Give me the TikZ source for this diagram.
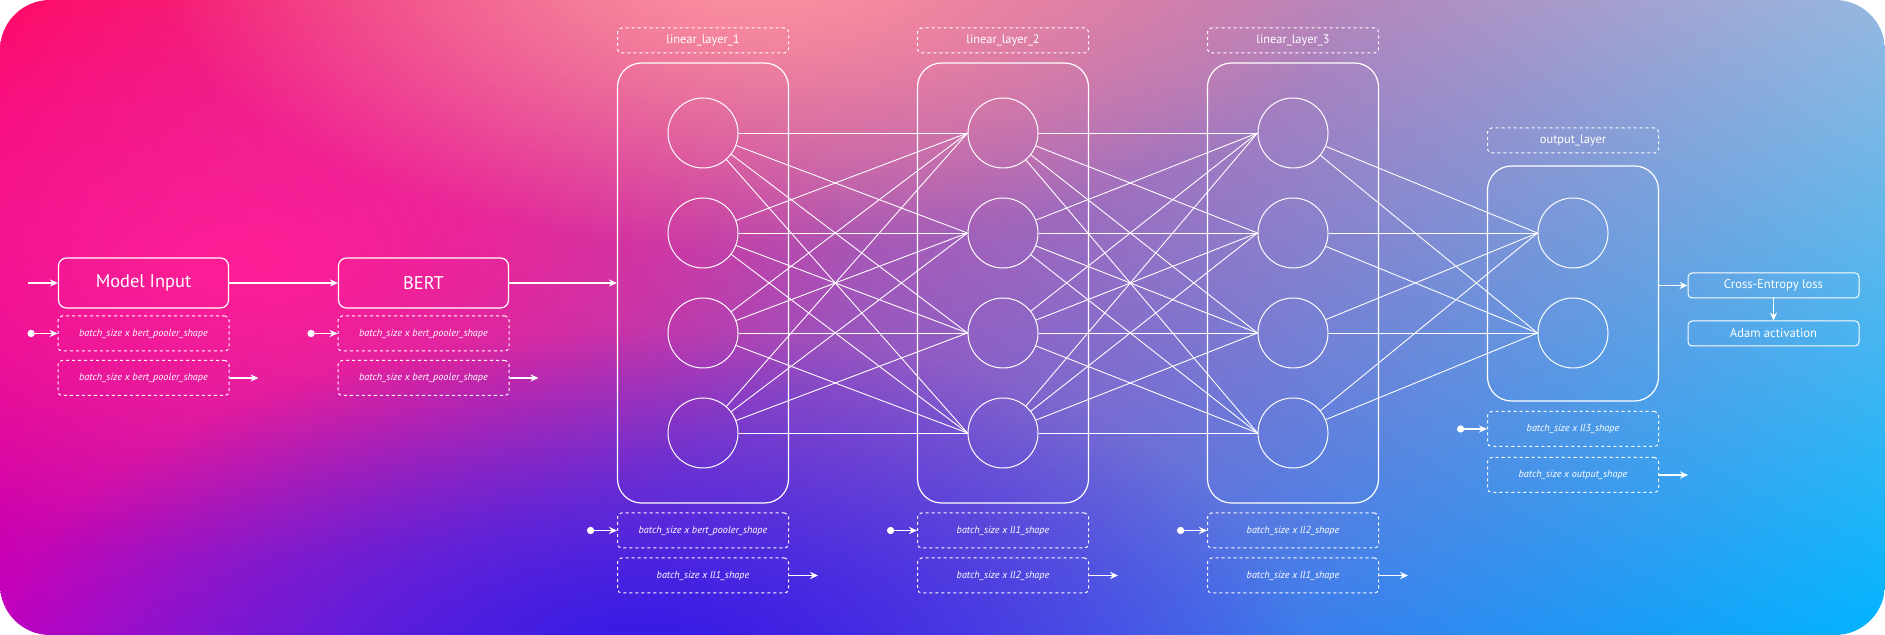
\documentclass[tikz,border=0pt]{standalone}
\usepackage{fontspec}
\setmainfont{PT Sans}
\usepackage{tikz}
\usetikzlibrary{arrows.meta, positioning, calc, fadings, shadings}

\definecolor{bgtl}{HTML}{FF0A64}
\definecolor{bgtr}{HTML}{96B8E0}
\definecolor{bgbl}{HTML}{C000C0}
\definecolor{bgbr}{HTML}{00B4FF}
\definecolor{bgdeep}{HTML}{3218E6}
\definecolor{bgpeach}{HTML}{FF96A0}
\definecolor{bgmagenta}{HTML}{FF1E96}

\tikzfading[name=glow, inner color=transparent!0, outer color=transparent!100]

\begin{document}
\begin{tikzpicture}[x=0.5pt, y=-0.5pt,
    every node/.style={text=white},
    mainbox/.style={draw=white, line width=0.6pt, rounded corners=4pt, minimum width=85pt, minimum height=25pt, font=\fontsize{9.2}{11}\selectfont},
    shapebox/.style={draw=white, dash pattern=on 1.5pt off 1.5pt, line width=0.5pt, rounded corners=2pt, minimum width=85.5pt, minimum height=17.5pt, font=\fontsize{5.1}{6}\selectfont\itshape},
    labelbox/.style={draw=white, dash pattern=on 1.5pt off 1.5pt, line width=0.5pt, rounded corners=2pt, minimum width=85.5pt, minimum height=12.5pt, font=\fontsize{6.2}{7}\selectfont},
    layerbox/.style={draw=white, line width=0.6pt, rounded corners=12pt, minimum width=85.5pt, minimum height=#1},
    layerbox/.default=220pt,
    neuron/.style={draw=white, line width=0.5pt, circle, minimum size=35pt, inner sep=0pt},
    lossbox/.style={draw=white, line width=0.5pt, rounded corners=2pt, minimum width=85.5pt, minimum height=12.5pt, font=\fontsize{6.3}{7}\selectfont},
    link/.style={white, line width=0.45pt},
    flow/.style={white, line width=0.6pt, -{Stealth[length=4pt, width=3.6pt]}},
    feed/.style={white, line width=0.6pt, {Circle[length=3.6pt]}-{Stealth[length=4pt, width=3.6pt]}}
]
    % Background
    \fill[white] (0,0) rectangle (1885,635);
    \begin{scope}
        \clip[rounded corners=25pt] (0,0) rectangle (1885,635);
        \shade[upper left=bgtl, upper right=bgtr, lower left=bgbl, lower right=bgbr] (0,0) rectangle (1885,635);
        \fill[bgmagenta, path fading=glow] (-350,-40) rectangle (850,560);
        \fill[bgpeach, path fading=glow] (160,-310) rectangle (1360,250);
        \fill[bgdeep, path fading=glow] (0,330) rectangle (1300,990);
    \end{scope}

    % Model input and BERT
    \node[mainbox] (inp) at (143.5,283) {Model Input};
    \node[mainbox] (bert) at (423.5,283) {BERT};
    \node[shapebox] (inpin) at (143.5,333.5) {batch\_size x bert\_pooler\_shape};
    \node[shapebox] (inpout) at (143.5,378) {batch\_size x bert\_pooler\_shape};
    \node[shapebox] (bertin) at (423.5,333.5) {batch\_size x bert\_pooler\_shape};
    \node[shapebox] (bertout) at (423.5,378) {batch\_size x bert\_pooler\_shape};

    \coordinate[left=15pt of inp] (start);
    \coordinate[left=15pt of inpin] (inpdot);
    \coordinate[left=15pt of bertin] (bertdot);
    \coordinate[right=14.5pt of inpout] (inpend);
    \coordinate[right=14.5pt of bertout] (bertend);
    \draw[flow] (start) -- (inp);
    \draw[flow] (inp) -- (bert);
    \draw[feed] (inpdot) -- (inpin);
    \draw[feed] (bertdot) -- (bertin);
    \draw[flow] (inpout) -- (inpend);
    \draw[flow] (bertout) -- (bertend);

    % Linear layers
    \foreach \x/\n/\a/\b in {703/1/bert\_pooler\_shape/ll1\_shape, 1003/2/ll1\_shape/ll2\_shape, 1293/3/ll2\_shape/ll1\_shape} {
        \node[layerbox] (lay\n) at (\x,283) {};
        \node[labelbox] (lab\n) at (\x,40.5) {linear\_layer\_\n};
        \node[shapebox] (lay\n in) at (\x,530.5) {batch\_size x \a};
        \node[shapebox] (lay\n out) at (\x,575.5) {batch\_size x \b};
        \coordinate[left=15pt of lay\n in] (lay\n dot);
        \coordinate[right=14.5pt of lay\n out] (lay\n end);
        \draw[feed] (lay\n dot) -- (lay\n in);
        \draw[flow] (lay\n out) -- (lay\n end);
        \foreach \y [count=\i] in {133,233,333,433}
            \node[neuron] (l\n n\i) at (\x,\y) {};
    }
    \draw[flow] (bert) -- (lay1);

    % Output layer
    \node[layerbox=117.5pt] (outlay) at (1573,283.5) {};
    \node[labelbox] (outlab) at (1573,140.5) {output\_layer};
    \node[neuron] (on1) at (1573,233) {};
    \node[neuron] (on2) at (1573,333) {};
    \node[shapebox] (outin) at (1573,429) {batch\_size x ll3\_shape};
    \node[shapebox] (outout) at (1573,475) {batch\_size x output\_shape};
    \coordinate[left=15pt of outin] (outdot);
    \coordinate[right=14.5pt of outout] (outend);
    \draw[feed] (outdot) -- (outin);
    \draw[flow] (outout) -- (outend);

    % Connections
    \foreach \i in {1,...,4} {
        \foreach \j in {1,...,4} {
            \draw[link] (l1n\i) -- (l2n\j.west);
            \draw[link] (l2n\i) -- (l3n\j.west);
        }
        \draw[link] (l3n\i) -- (on1.west);
        \draw[link] (l3n\i) -- (on2.west);
    }

    % Loss and optimiser
    \node[lossbox] (loss) at (1773.5,285.5) {Cross-Entropy loss};
    \node[lossbox] (adam) at (1773.5,333.5) {Adam activation};
    \draw[flow] (outlay.east |- loss) -- (loss);
    \draw[flow] (loss) -- (adam);
\end{tikzpicture}
\end{document}
